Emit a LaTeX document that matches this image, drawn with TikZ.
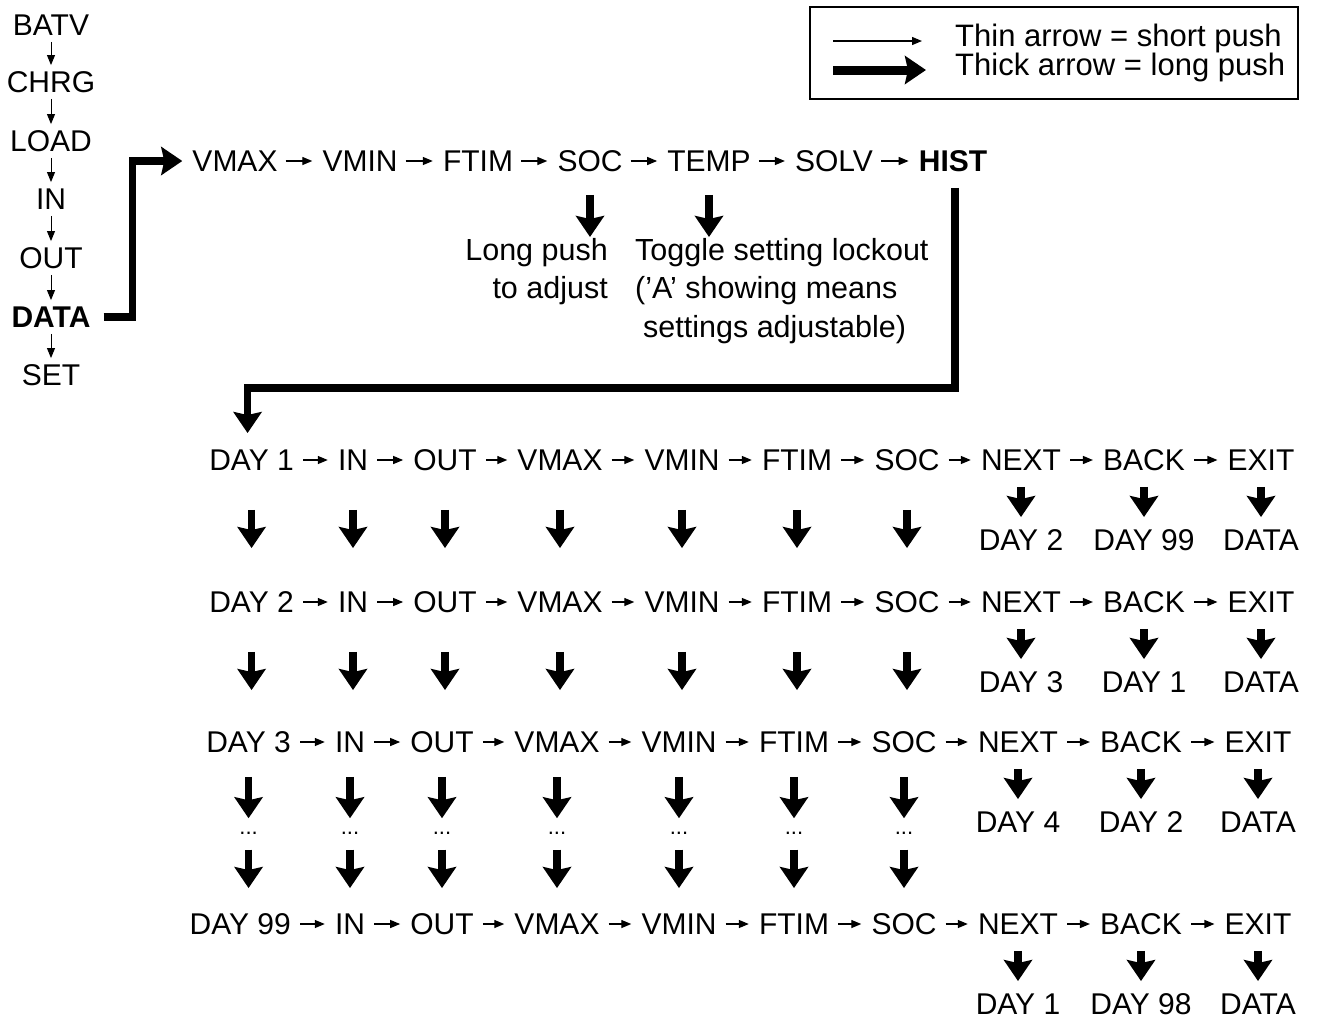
\documentclass[tikz,border=0pt]{standalone}
\usepackage{fontspec}
\setmainfont{Liberation Sans}
\usetikzlibrary{arrows.meta}

\tikzset{
  lbl/.style={inner sep=0pt, text height=21.5pt, text depth=0pt,
    font=\fontsize{30}{38.5}\selectfont},
  keylbl/.style={inner sep=0pt, text height=22pt, text depth=0pt,
    font=\fontsize{31}{38.5}\selectfont},
  note/.style={inner sep=0pt, font=\fontsize{30.5}{38.5}\selectfont},
  thinarr/.style={line width=1.3pt, -{Triangle[length=10pt,width=8pt]}},
  thickarr/.style={line width=7.5pt, -{Stealth[length=21pt,width=28pt,inset=3pt]}},
}

\begin{document}
\begin{tikzpicture}[x=1pt,y=-1pt]
\useasboundingbox (0,0) rectangle (1317,1018);

% key
\node[draw, line width=2pt, minimum width=488pt, minimum height=92pt] (key) at (1054,53) {};
\node[keylbl, anchor=west] (k1) at (955,35) {Thin arrow = short push};
\node[keylbl, anchor=west] (k2) at (955,64) {Thick arrow = long push};
\coordinate (k1a) at (833,41); \coordinate (k1b) at (922,41);
\coordinate (k2a) at (833,70); \coordinate (k2b) at (926,70);
\draw[thinarr] (k1a) -- (k1b);
\draw[thickarr, line width=9pt] (k2a) -- (k2b);

% main menu
\foreach \n/\t/\y in {l1/BATV/25, l2/CHRG/82, l3/LOAD/141, l4/IN/199, l5/OUT/258, l6/\textbf{DATA}/317, l7/SET/375}
  \node[lbl] (\n) at (51,\y) {\t};
\foreach \a/\b in {l1/l2, l2/l3, l3/l4, l4/l5, l5/l6, l6/l7}
  \draw[thinarr, line width=1pt, shorten <=6pt, shorten >=6pt] (\a) -- (\b);

% data menu
\foreach \n/\t/\x in {t1/VMAX/235, t2/VMIN/360, t3/FTIM/478, t4/SOC/590, t5/TEMP/709, t6/SOLV/834, t7/\textbf{HIST}/953}
  \node[lbl] (\n) at (\x,161) {\t};
\foreach \a/\b in {t1/t2, t2/t3, t3/t4, t4/t5, t5/t6, t6/t7}
  \draw[thinarr, shorten <=8pt, shorten >=10pt] (\a) -- (\b);
\draw[thickarr, shorten <=13pt, shorten >=10pt] (l6.east) -- ++(42,0) |- (t1.west);

\node[note, align=right, anchor=north east] (n1) at (608,238) {Long push\\to adjust};
\node[note, align=left, anchor=north west] (n2) at (635,238) {Toggle setting lockout\\('A' showing means\\\hspace*{8pt}settings adjustable)};
\draw[thickarr, line width=8pt, shorten <=23pt, shorten >=1pt] (t4.south) -- (t4.south |- n1.north);
\draw[thickarr, line width=8pt, shorten <=23pt, shorten >=1pt] (t5.south) -- (t5.south |- n2.north);

% history rows
\foreach \row/\y/\s/\d in {1/460/0/DAY 1, 2/602/0/DAY 2, 3/742/-3/DAY 3, 4/924/-3/DAY 99} {
  \node[lbl, anchor=east] (r\row-0) at (294+\s,\y) {\d};
  \foreach \c/\t/\x in {1/IN/353, 2/OUT/445, 3/VMAX/560, 4/VMIN/682, 5/FTIM/797, 6/SOC/907, 7/NEXT/1021, 8/BACK/1144, 9/EXIT/1261}
    \node[lbl] (r\row-\c) at (\x+\s,\y) {\t};
  \foreach \c [remember=\c as \p (initially 0)] in {1,...,9}
    \draw[thinarr, shorten <=9pt, shorten >=10pt] (r\row-\p) -- (r\row-\c);
}

\foreach \row/\a/\b/\e in {1/DAY 2/DAY 99/DATA, 2/DAY 3/DAY 1/DATA, 3/DAY 4/DAY 2/DATA, 4/DAY 1/DAY 98/DATA} {
  \node[lbl] (s\row-7) at ([yshift=-80pt]r\row-7) {\a};
  \node[lbl] (s\row-8) at ([yshift=-80pt]r\row-8) {\b};
  \node[lbl] (s\row-9) at ([yshift=-80pt]r\row-9) {\e};
  \foreach \c in {7,8,9}
    \draw[thickarr, shorten <=16pt, shorten >=12pt] (r\row-\c) -- (s\row-\c);
}

\foreach \c in {0,...,6} {
  \draw[thickarr, shorten <=39pt, shorten >=43pt] (r1-\c.south) -- (r1-\c.south |- r2-\c.north);
  \draw[thickarr, shorten <=39pt, shorten >=41pt] (r2-\c.south) -- (r2-\c.south |- r3-\c.north);
  \node[inner sep=0pt, text height=3pt, text depth=0pt, font=\fontsize{22}{22}\selectfont] (d\c) at ([yshift=-80pt]r3-\c.south) {...};
  \draw[thickarr, shorten <=24pt, shorten >=13pt] (r3-\c.south) -- (d\c.north);
  \draw[thickarr, shorten <=15pt, shorten >=25pt] (d\c.south) -- (d\c.south |- r4-\c.north);
}

\draw[thickarr, shorten <=16pt, shorten >=16pt] ([xshift=2pt]t7.south) -- ++(0,216) -| ([xshift=-4pt]r1-0.north);

\end{tikzpicture}
\end{document}
